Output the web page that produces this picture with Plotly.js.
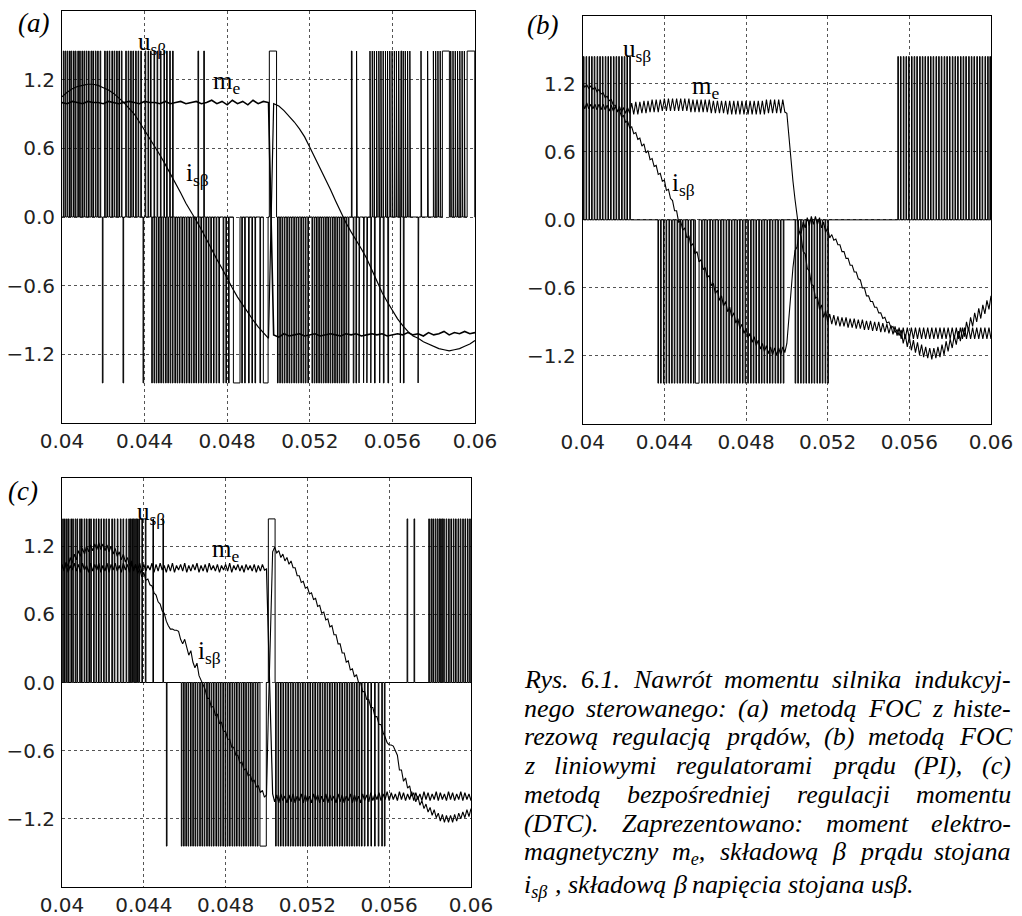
<!DOCTYPE html>
<html><head><meta charset="utf-8">
<script src="https://cdn.plot.ly/plotly-3.0.1.min.js"></script>
<style>html,body{margin:0;padding:0;background:#fff;}#chart{width:1022px;height:916px;}</style>
</head><body><div id="chart"></div>
<script>
// ---------- axes ----------
const X_TICKS = [0.04, 0.044, 0.048, 0.052, 0.056, 0.06];
const X_TICK_TEXT = ['0.04', '0.044', '0.048', '0.052', '0.056', '0.06'];
const Y_TICKS = [-1.2, -0.6, 0, 0.6, 1.2];
const Y_TICK_TEXT = ['\u22121.2', '\u22120.6', '0.0', '0.6', '1.2'];
const T_START = 0.04, T_END = 0.06;

// ---------- panel (a): FOC with hysteresis current control ----------
const A_DT = 0.00025;
const A_ME = [1.0,0.99,1.01,1.0,0.99,1.01,1.0,1.0,0.99,1.01,1.0,0.99,1.0,1.01,1.0,0.99,1.01,1.0,1.0,0.99,1.01,0.99,1.0,1.01,0.99,1.0,1.01,0.99,1.0,1.02,0.99,1.01,0.98,1.02,0.99,1.01,0.98,1.02,0.99,1.01,1.0,
 -1.03,-1.05,-1.02,-1.04,-1.03,-1.02,-1.04,-1.03,-1.02,-1.04,-1.03,-1.02,-1.03,-1.04,-1.02,-1.03,-1.02,-1.04,-1.03,-1.02,-1.03,-1.02,-1.04,-1.03,-1.02,-1.03,-1.01,-1.03,-1.02,-1.04,-1.01,-1.03,-1.02,-1.0,-1.03,-1.01,-1.02,-1.0,-1.02,-1.01];
const A_IS = [1.05,1.09,1.12,1.14,1.15,1.16,1.16,1.15,1.13,1.11,1.08,1.04,1.0,0.95,0.9,0.83,0.76,0.69,0.62,0.54,0.46,0.38,0.3,0.21,0.12,0.05,-0.03,-0.11,-0.2,-0.28,-0.37,-0.45,-0.54,-0.62,-0.7,-0.77,-0.84,-0.9,-0.96,-1.01,-1.06,
 0.99,0.97,0.93,0.88,0.83,0.77,0.7,0.61,0.52,0.43,0.34,0.24,0.14,0.04,-0.05,-0.13,-0.2,-0.28,-0.36,-0.46,-0.56,-0.66,-0.74,-0.82,-0.89,-0.95,-1.0,-1.04,-1.06,-1.09,-1.11,-1.13,-1.15,-1.16,-1.17,-1.16,-1.15,-1.13,-1.11,-1.08];
const A_U_LEVEL = 1.45;
const A_U_POS = [0.04008,0.04017,0.04027,0.04038,0.04046,0.04057,0.04066,0.04078,0.04087,0.04098,0.04108,0.04119,0.04130,0.04142,0.04151,0.04163,0.04174,0.04186,0.04208,0.04219,0.04230,0.04243,0.04254,0.04266,0.04277,0.04289,0.04310,0.04322,0.04334,0.04345,0.04358,0.04370,0.04383,0.04404,0.04418,0.04430,0.04447,0.04462,0.04478,0.04495,0.04508,0.04523,0.04537,0.04660,0.04688,
 0.05403,0.05428,0.05493,0.05504,0.05514,0.05525,0.05536,0.05546,0.05557,0.05568,0.05578,0.05589,0.05600,0.05611,0.05621,0.05632,0.05643,0.05654,0.05664,0.05675,0.05686,0.05740,0.05772,0.05800,0.05811,0.05822,0.05833,0.05884,0.05895,0.05906,0.05917,0.05928,0.05939,0.05950];
const A_U_POS_WIDE = [0.05004,0.05039, 0.05842,0.05876, 0.05962,0.05999];
const A_U_NEG = [0.04197,0.04297,0.04394,0.04436,0.04447,0.04458,0.04469,0.04480,0.04491,0.04503,0.04514,0.04525,0.04536,0.04548,0.04559,0.04570,0.04582,0.04593,0.04604,0.04616,0.04627,0.04639,0.04650,0.04662,0.04674,0.04686,0.04698,0.04710,0.04722,0.04735,0.04748,0.04761,0.04782,0.04795,0.04808,0.04872,0.04886,0.04905,0.04921,0.04936,0.04960,
 0.05045,0.05056,0.05067,0.05078,0.05090,0.05101,0.05112,0.05124,0.05135,0.05146,0.05158,0.05169,0.05180,0.05192,0.05212,0.05223,0.05234,0.05245,0.05256,0.05267,0.05278,0.05289,0.05300,0.05311,0.05322,0.05333,0.05344,0.05355,0.05366,0.05377,0.05388,0.05412,0.05425,0.05440,0.05462,0.05478,0.05497,0.05515,0.05540,0.05558,0.05580,0.05640,0.05655,0.05726];
const A_U_NEG_WIDE = [0.04830,0.04862, 0.04975,0.04998];

// ---------- panel (b): FOC with PI current controllers ----------
const BC_DT = 0.0001;
const B_ME = [1.03,0.98,1.03,0.98,1.02,0.98,1.02,0.97,1.02,0.97,1.02,0.97,1.01,0.96,1.01,0.96,1.0,0.95,1.0,0.95,0.99,0.94,0.99,0.94,
 1.03,0.93,1.04,0.93,1.04,0.94,1.05,0.94,1.05,0.95,1.06,0.95,1.06,0.95,1.06,0.96,
 1.07,0.96,1.07,0.96,1.07,0.96,1.07,0.96,1.07,0.96,1.07,0.96,1.07,0.95,1.06,0.95,1.06,0.95,1.06,0.95,
 1.06,0.95,1.06,0.94,1.05,0.94,1.05,0.94,1.05,0.94,1.05,0.93,1.05,0.93,1.05,0.93,1.05,0.93,1.05,0.93,
 1.05,0.93,1.05,0.93,1.05,0.93,1.05,0.93,1.05,0.93,1.06,0.94,1.06,0.94,1.06,0.94,1.06,0.94,1.06,0.95,
 0.94,0.72,0.52,0.34,0.18,0.03,-0.1,
 -0.15,-0.28,-0.3,-0.43,-0.45,-0.57,-0.58,-0.69,-0.68,-0.79,-0.75,-0.86,-0.8,-0.9,-0.83,
 -0.92,-0.84,-0.93,-0.85,-0.94,-0.86,-0.94,-0.86,-0.95,-0.87,-0.95,-0.87,-0.96,-0.88,-0.96,-0.88,-0.97,-0.89,-0.97,-0.89,-0.98,-0.9,-0.98,-0.9,-0.99,-0.91,-0.99,-0.92,-1.0,-0.93,-1.01,-0.94,-1.02,-0.95,
 -1.05,-0.95,-1.05,-0.95,-1.05,-0.95,-1.05,-0.95,-1.05,-0.95,-1.05,-0.95,-1.05,-0.95,-1.05,-0.95,-1.05,-0.95,-1.05,-0.95,-1.05,-0.95,-1.05,-0.95,-1.05,-0.95,-1.05,-0.95,-1.05,-0.95,-1.05,-0.95,-1.05,-0.95,-1.05,-0.95,-1.05,-0.95,-1.05,-0.95,-1.05,-0.95,-1.05,-0.95,-1.05];
const B_IS = [1.20,1.17,1.19,1.16,1.18,1.15,1.17,1.13,1.15,1.11,1.12,1.08,1.09,1.05,1.06,1.01,1.01,0.96,0.97,0.91,0.92,0.86,0.87,0.81,0.82,0.76,0.77,0.71,0.72,0.65,0.67,0.59,0.61,0.53,0.54,0.47,0.48,0.40,0.41,0.34,0.35,0.26,0.27,0.19,0.17,0.08,0.08,-0.02,
 -0.01,-0.09,-0.07,-0.16,-0.14,-0.23,-0.21,-0.30,-0.28,-0.37,-0.35,-0.44,-0.42,-0.51,-0.49,-0.58,-0.56,-0.65,-0.62,-0.71,-0.67,-0.76,-0.72,-0.81,-0.77,-0.86,-0.82,-0.91,-0.87,-0.96,-0.92,-1.00,-0.96,-1.04,-1.00,-1.08,-1.03,-1.11,-1.06,-1.14,-1.09,-1.16,-1.11,-1.18,-1.12,-1.19,-1.13,-1.19,-1.13,-1.19,-1.12,-1.17,-1.09,
 -0.85,-0.6,-0.42,
 -0.27,-0.24,-0.10,-0.12,-0.02,-0.07,0.02,-0.05,0.03,-0.04,0.03,-0.04,0.02,-0.07,-0.02,-0.11,-0.07,-0.16,
 -0.13,-0.18,-0.17,-0.22,-0.22,-0.28,-0.28,-0.34,-0.34,-0.40,-0.40,-0.46,-0.46,-0.52,-0.53,-0.60,-0.60,-0.67,-0.67,-0.72,-0.72,-0.77,-0.77,-0.82,-0.82,-0.87,-0.86,-0.91,-0.90,-0.95,-0.94,-0.99,-0.97,-1.02,
 -0.97,-1.09,-1.01,-1.12,-1.03,-1.15,-1.06,-1.17,-1.08,-1.19,-1.10,-1.21,-1.12,-1.22,-1.13,-1.23,-1.13,-1.22,-1.12,-1.21,-1.10,-1.19,-1.07,-1.16,-1.05,-1.13,-1.02,-1.10,-0.98,-1.07,-0.95,-1.03,-0.90,-0.98,-0.86,-0.94,-0.82,-0.90,-0.78,-0.87,-0.75,-0.83,-0.71,-0.79,-0.67];
const B_U_LEVEL = 1.44;
const B_U_POS = [0.04005,0.04018,0.04032,0.04045,0.04058,0.04072,0.04085,0.04098,0.04112,0.04125,0.04138,0.04152,0.04165,0.04178,0.04192,0.04205,0.04218,0.04232,
 0.05545,0.05558,0.05572,0.05585,0.05598,0.05612,0.05625,0.05638,0.05652,0.05665,0.05678,0.05692,0.05705,0.05718,0.05732,0.05745,0.05758,0.05772,0.05785,0.05798,0.05812,0.05825,0.05838,0.05852,0.05865,0.05878,0.05892,0.05905,0.05918,0.05932,0.05945,0.05958,0.05972,0.05985,0.05996];
const B_U_POS_WIDE = [];
const B_U_NEG = [0.04370,0.04383,0.04397,0.04410,0.04424,0.04437,0.04450,0.04464,0.04477,0.04490,0.04504,0.04517,0.04530,0.04544,0.04584,0.04597,0.04610,0.04624,0.04637,0.04650,0.04664,0.04677,0.04690,0.04704,0.04717,0.04730,0.04744,0.04757,0.04770,0.04784,0.04797,0.04810,0.04824,0.04837,0.04850,0.04864,0.04877,0.04890,0.04904,0.04917,0.04930,0.04944,0.04957,0.04970,0.04984,
 0.05042,0.05055,0.05069,0.05082,0.05095,0.05109,0.05122,0.05135,0.05149,0.05162,0.05175,0.05189,0.05202];
const B_U_NEG_WIDE = [0.04552,0.04570];

// ---------- panel (c): DTC ----------
const C_ME = [1.04,0.98,1.05,0.97,1.03,0.99,1.05,0.98,1.04,0.97,1.05,0.99,1.03,0.97,1.05,0.98,1.04,0.99,1.05,0.97,
 1.03,0.98,1.05,0.97,1.04,0.99,1.05,0.98,1.03,0.97,1.05,0.99,1.04,0.97,1.05,0.98,1.03,0.99,1.05,0.97,
 1.04,0.98,1.03,0.99,1.05,0.97,1.04,0.98,1.05,0.99,1.03,0.97,1.04,0.98,1.05,0.97,1.03,0.99,1.04,0.98,
 1.05,0.97,1.03,0.98,1.04,0.99,1.05,0.97,1.03,0.98,1.04,0.97,1.05,0.99,1.03,0.98,1.04,0.97,1.03,0.99,
 1.04,0.98,1.05,0.97,1.03,0.99,1.04,0.98,1.03,0.97,1.04,0.99,1.03,0.98,1.04,0.97,1.03,0.98,1.04,0.99,
 1.0,0.3,-0.5,-0.98,
 -1.05,-0.99,-1.06,-0.98,-1.04,-1.0,-1.06,-0.99,-1.05,-0.98,
 -1.06,-1.0,-1.04,-0.98,-1.06,-0.99,-1.05,-1.0,-1.06,-0.98,
 -1.04,-0.99,-1.06,-1.0,-1.05,-0.98,-1.06,-0.99,-1.04,-1.0,
 -1.06,-0.98,-1.05,-0.99,-1.06,-1.0,-1.04,-0.98,-1.06,-0.99,
 -1.05,-1.0,-1.06,-0.98,-1.04,-0.99,-1.05,-0.97,-1.04,-0.98,
 -1.03,-0.97,-1.04,-0.98,-1.03,-0.96,-1.04,-0.97,-1.03,-0.98,
 -1.04,-0.96,-1.03,-0.97,-1.04,-0.98,-1.03,-0.96,-1.04,-0.97,
 -1.03,-0.98,-1.04,-0.96,-1.03,-0.97,-1.04,-0.98,-1.03,-0.96,
 -1.04,-0.97,-1.03,-0.98,-1.04,-0.96,-1.03,-0.97,-1.04,-0.98,
 -1.03,-0.96,-1.04,-0.97,-1.03,-0.98,-1.04];
const C_IS = [1.03,0.99,1.06,1.02,1.1,1.05,1.13,1.08,1.16,1.11,1.18,1.13,1.2,1.15,1.21,1.16,1.22,1.17,1.23,1.17,1.22,1.16,1.21,1.15,1.2,1.13,1.18,1.11,1.15,1.08,1.13,1.06,1.1,1.03,1.07,1.0,1.04,0.96,1.0,0.93,0.97,0.9,0.91,0.86,0.85,0.79,0.77,0.71,0.69,0.63,0.61,
 0.54,0.5,0.47,0.47,0.46,0.46,0.45,0.38,0.34,0.38,0.3,0.24,0.28,0.18,0.13,0.17,0.06,0.02,-0.03,
 -0.06,-0.14,-0.14,-0.22,-0.21,-0.29,-0.28,-0.36,-0.35,-0.43,-0.43,-0.5,-0.5,-0.57,-0.57,-0.64,-0.64,-0.71,-0.7,-0.77,-0.76,-0.82,-0.81,-0.87,-0.86,-0.92,-0.91,-0.97,-0.95,-1.01,-0.99,
 -0.2,0.6,1.15,
 1.19,1.14,1.16,1.1,1.13,1.07,1.1,1.04,1.07,1.01,1.01,0.94,0.94,0.88,0.89,0.83,0.84,0.78,0.79,0.73,0.74,0.67,0.68,0.61,0.62,0.55,0.56,0.49,0.5,0.42,0.42,0.34,0.34,0.26,0.26,0.18,0.19,0.11,0.12,0.05,0.07,0.0,0.0,-0.08,-0.08,-0.15,-0.15,-0.22,-0.22,-0.3,-0.3,-0.37,-0.37,-0.44,
 -0.48,-0.53,-0.55,-0.55,-0.56,-0.6,-0.64,-0.77,-0.77,-0.87,-0.84,-0.93,-0.91,-1.0,-0.97,-1.05,-1.0,-1.08,-1.04,-1.11,-1.07,-1.14,-1.1,-1.17,-1.12,-1.19,-1.15,-1.22,-1.16,-1.23,-1.17,-1.23,-1.17,-1.23,-1.16,-1.22,-1.15,-1.2,-1.14,-1.19,-1.12,-1.18,-1.11];
const C_U_LEVEL = 1.44;
const C_U_POS = [0.04005,0.04014,0.04024,0.04033,0.04045,0.04054,0.04066,0.04075,0.04088,0.04097,0.04110,0.04121,0.04133,0.04142,0.04156,0.04168,0.04180,0.04192,0.04205,0.04217,0.04230,0.04245,0.04257,0.04272,0.04287,0.04300,0.04315,0.04328,0.04336,0.04343,0.04350,0.04357,0.04364,0.04371,0.04378,0.04392,0.04409,0.04446,0.04495,
 0.05689,0.05723,0.05795,0.05806,0.05815,0.05826,0.05836,0.05845,0.05853,0.05860,0.05868,0.05880,0.05892,0.05903,0.05915,0.05926,0.05938,0.05949,0.05961,0.05972,0.05984,0.05995];
const C_U_POS_WIDE = [0.05009,0.05042];
const C_U_NEG = [0.04512,0.04585,0.04596,0.04607,0.04618,0.04630,0.04641,0.04652,0.04663,0.04675,0.04686,0.04697,0.04709,0.04720,0.04731,0.04742,0.04754,0.04765,0.04776,0.04788,0.04799,0.04810,0.04821,0.04833,0.04844,0.04855,0.04867,0.04878,0.04889,0.04900,0.04912,0.04923,0.04934,0.04946,0.04957,
 0.05046,0.05058,0.05070,0.05082,0.05094,0.05106,0.05118,0.05130,0.05142,0.05154,0.05166,0.05178,0.05190,0.05202,0.05214,0.05226,0.05238,0.05250,0.05262,0.05274,0.05286,0.05298,0.05310,0.05322,0.05334,0.05346,0.05358,0.05370,0.05382,0.05394,0.05406,0.05418,0.05430,0.05442,0.05454,0.05466,0.05480,0.05496,0.05512,0.05530,0.05548,0.05565,0.05578];
const C_U_NEG_WIDE = [0.04968,0.04999];

// ---------- text ----------
const PANEL_LABELS = ['(a)', '(b)', '(c)'];
const CURVE_LABELS = ['u<sub>s\u03b2</sub>', 'm<sub>e</sub>', 'i<sub>s\u03b2</sub>'];
const CAPTION_LINES = [
  'Rys. 6.1. Nawrót momentu silnika indukcyj-',
  'nego sterowanego: (a) metodą FOC z histe-',
  'rezową regulacją prądów, (b) metodą FOC',
  'z liniowymi regulatorami prądu (PI), (c)',
  'metodą bezpośredniej regulacji momentu',
  '(DTC). Zaprezentowano:  moment elektro-',
  'magnetyczny m<sub>e</sub>,  składową β prądu stojana',
  'i<sub>sβ</sub> , składową β napięcia stojana usβ.'
];

// ---------- build ----------
const W = 1022, H = 916;
const PULSE_W = 0.00003;
function pulseXY(pos, posWide, neg, negWide, level) {
  const p = [];
  pos.forEach(c => p.push([c - PULSE_W / 2, c + PULSE_W / 2, level]));
  neg.forEach(c => p.push([c - PULSE_W / 2, c + PULSE_W / 2, -level]));
  for (let i = 0; i < posWide.length; i += 2) p.push([posWide[i], posWide[i + 1], level]);
  for (let i = 0; i < negWide.length; i += 2) p.push([negWide[i], negWide[i + 1], -level]);
  p.sort((a, b) => a[0] - b[0]);
  const x = [T_START], y = [0];
  p.forEach(([s, e, l]) => { x.push(s, s, e, e); y.push(0, l, l, 0); });
  x.push(T_END); y.push(0);
  return { x, y };
}
function seriesTrace(vals, dt, xa, ya, width) {
  return { type: 'scatter', mode: 'lines', x0: T_START, dx: dt, y: vals, xaxis: xa, yaxis: ya,
    line: { color: '#000', width: width }, hoverinfo: 'skip' };
}
function uTrace(pxy, xa, ya) {
  return { type: 'scatter', mode: 'lines', x: pxy.x, y: pxy.y, xaxis: xa, yaxis: ya,
    line: { color: '#000', width: 1 }, hoverinfo: 'skip' };
}
const traces = [
  uTrace(pulseXY(A_U_POS, A_U_POS_WIDE, A_U_NEG, A_U_NEG_WIDE, A_U_LEVEL), 'x', 'y'),
  seriesTrace(A_ME, A_DT, 'x', 'y', 1.6),
  seriesTrace(A_IS, A_DT, 'x', 'y', 1.2),
  uTrace(pulseXY(B_U_POS, B_U_POS_WIDE, B_U_NEG, B_U_NEG_WIDE, B_U_LEVEL), 'x2', 'y2'),
  seriesTrace(B_ME, BC_DT, 'x2', 'y2', 1.1),
  seriesTrace(B_IS, BC_DT, 'x2', 'y2', 1.1),
  uTrace(pulseXY(C_U_POS, C_U_POS_WIDE, C_U_NEG, C_U_NEG_WIDE, C_U_LEVEL), 'x3', 'y3'),
  seriesTrace(C_ME, BC_DT, 'x3', 'y3', 1.2),
  seriesTrace(C_IS, BC_DT, 'x3', 'y3', 1.1)
];

const tickFont = { family: 'DejaVu Sans', size: 20, color: '#222' };
function xAx(l, r, anchor) {
  return { domain: [l / W, r / W], anchor, range: [T_START, T_END], tickvals: X_TICKS, ticktext: X_TICK_TEXT,
    showline: true, mirror: true, linecolor: '#000', linewidth: 1, ticks: '', showgrid: true,
    gridcolor: '#555', griddash: 'dot', gridwidth: 1, zeroline: false, tickfont: tickFont,
    ticklabelstandoff: 0, fixedrange: true };
}
function yAx(top, bot, anchor) {
  return { domain: [1 - bot / H, 1 - top / H], anchor, range: [-1.8, 1.8], tickvals: Y_TICKS, ticktext: Y_TICK_TEXT,
    showline: true, mirror: true, linecolor: '#000', linewidth: 1, ticks: '', showgrid: true,
    gridcolor: '#555', griddash: 'dot', gridwidth: 1, zeroline: false, tickfont: tickFont,
    ticklabelstandoff: 2, fixedrange: true };
}

const ann = [];
function addText(text, px, py, size, xanchor, yanchor, italic) {
  ann.push({ xref: 'paper', yref: 'paper', x: px / W, y: 1 - py / H, xanchor, yanchor, showarrow: false,
    text: italic ? '<i>' + text + '</i>' : text, borderpad: 0,
    font: { family: 'Liberation Serif', size, color: '#000' } });
}
// panel labels
[[33, 23], [542, 25], [23, 491]].forEach((p, i) => addText(PANEL_LABELS[i], p[0], p[1], 27, 'center', 'middle', true));
// curve labels: [u, m, i] per panel, left x and top y
const CL_POS = [
  [[137, 27], [212, 66], [185, 158]],
  [[622, 34], [691, 71], [671, 168]],
  [[136, 497], [211, 534], [197, 636]]
];
CL_POS.forEach(panel => panel.forEach((p, j) => addText(CURVE_LABELS[j], p[0], p[1], 25, 'left', 'top', false)));

// caption, justified
const CAP_SIZE = 26, CAP_L = 523, CAP_R = 1010, CAP_TOP0 = 664, CAP_STEP = 28.7, CAP_LAST_EXTRA = 4;
const cv = document.createElement('canvas').getContext('2d');
function wordWidth(html) {
  let w = 0;
  html.split(/(<sub>.*?<\/sub>)/).forEach(part => {
    if (!part) return;
    const m = part.match(/^<sub>(.*)<\/sub>$/);
    if (m) { cv.font = 'italic ' + (CAP_SIZE * 0.7) + 'px "Liberation Serif"'; w += cv.measureText(m[1]).width + 1; }
    else { cv.font = 'italic ' + CAP_SIZE + 'px "Liberation Serif"'; w += cv.measureText(part).width; }
  });
  return w;
}
cv.font = 'italic ' + CAP_SIZE + 'px "Liberation Serif"';
const SPACE_W = cv.measureText(' ').width;
CAPTION_LINES.forEach((line, li) => {
  const words = line.split(/\s+/);
  const widths = words.map(wordWidth);
  const total = widths.reduce((a, b) => a + b, 0);
  const last = li === CAPTION_LINES.length - 1;
  const gap = last ? SPACE_W : Math.max(SPACE_W * 0.6, (CAP_R - CAP_L - total) / (words.length - 1));
  let x = CAP_L;
  const top = CAP_TOP0 + li * CAP_STEP + (last ? CAP_LAST_EXTRA : 0);
  words.forEach((w, wi) => { addText(w, x, top, CAP_SIZE, 'left', 'top', true); x += widths[wi] + gap; });
});

const layout = {
  width: W, height: H, margin: { l: 0, r: 0, t: 0, b: 0 }, autosize: false,
  paper_bgcolor: '#fff', plot_bgcolor: '#fff', showlegend: false,
  xaxis: xAx(62, 475, 'y'), yaxis: yAx(11, 423, 'x'),
  xaxis2: xAx(582.7, 991, 'y2'), yaxis2: yAx(15.7, 424, 'x2'),
  xaxis3: xAx(62, 471, 'y3'), yaxis3: yAx(478, 887, 'x3'),
  annotations: ann
};
Plotly.newPlot('chart', traces, layout, { staticPlot: true, displayModeBar: false });
</script></body></html>
